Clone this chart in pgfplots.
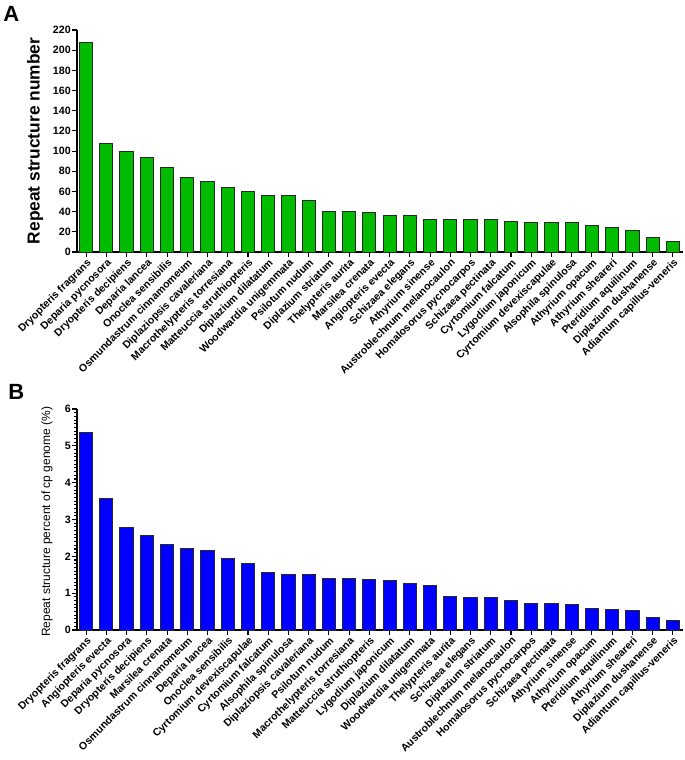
\documentclass[border=0pt]{standalone}
\usepackage{pgfplots}
\pgfplotsset{compat=1.18}
\usepackage{fontspec}
\setmainfont{Liberation Sans}

\definecolor{barA}{RGB}{0,187,0}
\definecolor{barB}{RGB}{0,0,255}
\definecolor{edge}{RGB}{40,40,40}

\pgfplotsset{
 common/.style={
  scale only axis,
  width=454.5pt,
  xmin=-0.45, xmax=29.5,
  ymin=0,
  axis x line*=bottom, axis y line*=left,
  axis line style={line width=1.1pt, black},
  xtick={0,...,29},
  tick align=outside,
  major tick length=3.5pt,
  minor tick length=2pt,
  tick style={line width=0.8pt, black},
  /pgf/number format/assume math mode=true,
  tick label style={font=\bfseries\fontsize{8}{9}\selectfont},
  x tick label style={rotate=45, anchor=north east, inner sep=0.5pt, font=\bfseries\fontsize{7.9}{8}\selectfont},
  y tick label style={inner sep=1pt},
  ybar, bar width=0.65,
  clip=false,
 }
}

\begin{document}
\begin{tikzpicture}
\path[use as bounding box] (0,0) rectangle (513.75pt,-570pt);

\node[anchor=north west, inner sep=0pt, font=\bfseries\fontsize{16.5}{18}\selectfont] at (2.25pt,-4.5pt) {A};
\node[anchor=north west, inner sep=0pt, font=\bfseries\fontsize{16.5}{18}\selectfont] at (6pt,-288pt) {B};

\begin{axis}[common,
  at={(57.75pt,-189pt)}, anchor=south west,
  height=166.5pt,
  ymax=220, ytick={0,20,...,220},
  ylabel={Repeat structure number},
  ylabel style={at={(axis description cs:-0.069,0.5)}, anchor=center, rotate=0, font=\bfseries\fontsize{13}{14}\selectfont},
  xticklabels={Dryopteris fragrans, Deparia pycnosora, Dryopteris decipiens, Deparia lancea, Onoclea sensibilis, Osmundastrum cinnamomeum, Diplaziopsis cavaleriana, Macrothelypteris torresiana, Matteuccia struthiopteris, Diplazium dilatatum, Woodwardia unigemmata, Psilotum nudum, Diplazium striatum, Thelypteris aurita, Marsilea crenata, Angiopteris evecta, Schizaea elegans, Athyrium sinense, Austroblechnum melanocaulon, Homalosorus pycnocarpos, Schizaea pectinata, Cyrtomium falcatum, Lygodium japonicum, Cyrtomium devexiscapulae, Alsophila spinulosa, Athyrium opacum, Athyrium sheareri, Pteridium aquilinum, Diplazium dushanense, Adiantum capillus-veneris},
]
\addplot[fill=barA, draw=edge, line width=0.75pt] coordinates {
(0,208) (1,108) (2,100) (3,94) (4,84) (5,74) (6,70) (7,64) (8,60) (9,56)
(10,56) (11,51) (12,40) (13,40) (14,39) (15,36) (16,36) (17,32) (18,32) (19,32)
(20,32) (21,30) (22,29) (23,29) (24,29) (25,26) (26,24) (27,21) (28,14) (29,10)
};
\end{axis}

\begin{axis}[common,
  at={(57.75pt,-472.5pt)}, anchor=south west,
  height=165.75pt,
  ymax=6, ytick={0,1,...,6}, minor y tick num=9,
  ylabel={Repeat structure percent of cp genome (\%)},
  ylabel style={at={(axis description cs:-0.0495,0.49)}, anchor=center, rotate=0, font=\fontsize{9}{10}\selectfont},
  xticklabels={Dryopteris fragrans, Angiopteris evecta, Deparia pycnosora, Dryopteris decipiens, Marsilea crenata, Osmundastrum cinnamomeum, Deparia lancea, Onoclea sensibilis, Cyrtomium devexiscapulae, Cyrtomium falcatum, Alsophila spinulosa, Diplaziopsis cavaleriana, Psilotum nudum, Macrothelypteris torresiana, Matteuccia struthiopteris, Lygodium japonicum, Diplazium dilatatum, Woodwardia unigemmata, Thelypteris aurita, Schizaea elegans, Diplazium striatum, Austroblechnum melanocaulon, Homalosorus pycnocarpos, Schizaea pectinata, Athyrium sinense, Athyrium opacum, Pteridium aquilinum, Athyrium sheareri, Diplazium dushanense, Adiantum capillus-veneris},
]
\addplot[fill=barB, draw=edge, line width=0.75pt] coordinates {
(0,5.36) (1,3.57) (2,2.78) (3,2.57) (4,2.33) (5,2.20) (6,2.15) (7,1.93) (8,1.80) (9,1.57)
(10,1.51) (11,1.50) (12,1.41) (13,1.41) (14,1.37) (15,1.35) (16,1.26) (17,1.22) (18,0.92) (19,0.89)
(20,0.88) (21,0.79) (22,0.72) (23,0.71) (24,0.70) (25,0.58) (26,0.57) (27,0.53) (28,0.34) (29,0.25)
};
\end{axis}
\end{tikzpicture}
\end{document}
